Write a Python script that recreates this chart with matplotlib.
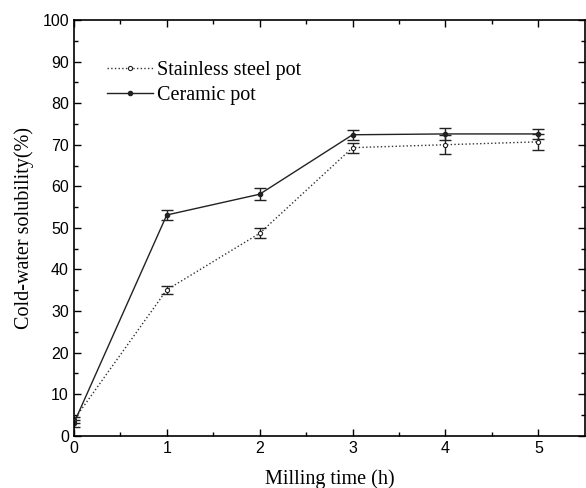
import numpy as np
import matplotlib
matplotlib.use('Agg')
from matplotlib import pyplot as plt

hours = [0, 1, 2, 3, 4, 5]
steel = [3.8, 35.1, 48.7, 69.3, 70.0, 70.7]
steel_err = [0.8, 0.9, 1.2, 1.2, 2.3, 2.0]
ceramic = [3.0, 53.1, 58.1, 72.4, 72.6, 72.6]
ceramic_err = [0.8, 1.3, 1.4, 1.2, 1.4, 1.2]

fig = plt.figure(figsize=(5.86, 4.88), dpi=100)
ax = fig.add_axes([0.126, 0.107, 0.872, 0.852])

# error bars first, lines with labels on top
ax.errorbar(hours, steel, yerr=steel_err, fmt='none', ecolor='#222222',
            elinewidth=1, capsize=4, capthick=1)
ax.errorbar(hours, ceramic, yerr=ceramic_err, fmt='none', ecolor='#222222',
            elinewidth=1, capsize=4, capthick=1)
ax.plot(hours, steel, color='#333333', ls=':', lw=1, marker='o', ms=3,
        mfc='white', mec='#222222', mew=0.8, label='Stainless steel pot')
ax.plot(hours, ceramic, color='#222222', ls='-', lw=1, marker='o', ms=3,
        mfc='#222222', mec='#222222', label='Ceramic pot')

ax.set_xlim(0, 5.5)
ax.set_ylim(0, 100)
ax.set_xticks(np.arange(0, 6, 1))
ax.set_xticks(np.arange(0.5, 5.5, 1), minor=True)
ax.set_yticks(np.arange(0, 101, 10))
ax.set_yticks(np.arange(5, 100, 10), minor=True)
ax.tick_params(which='both', direction='in', top=True, right=True,
               labelsize=11.5, labelfontfamily='Liberation Sans', width=1)
ax.tick_params(which='major', length=5)
ax.tick_params(which='minor', length=3)
for s in ax.spines.values():
    s.set_linewidth(1.2)

ax.set_xlabel('Milling time (h)', family='Liberation Serif', fontsize=14.5, labelpad=10)
ax.set_ylabel('Cold-water solubility(%)', family='Liberation Serif', fontsize=14.5, labelpad=6)

leg = ax.legend(loc='upper left', bbox_to_anchor=(0.049, 0.921), frameon=False,
                prop={'family': 'Liberation Serif', 'size': 14.5},
                handlelength=2.3, handletextpad=0.2, labelspacing=0.3,
                borderaxespad=0)

fig.savefig('out.png', dpi=100)
